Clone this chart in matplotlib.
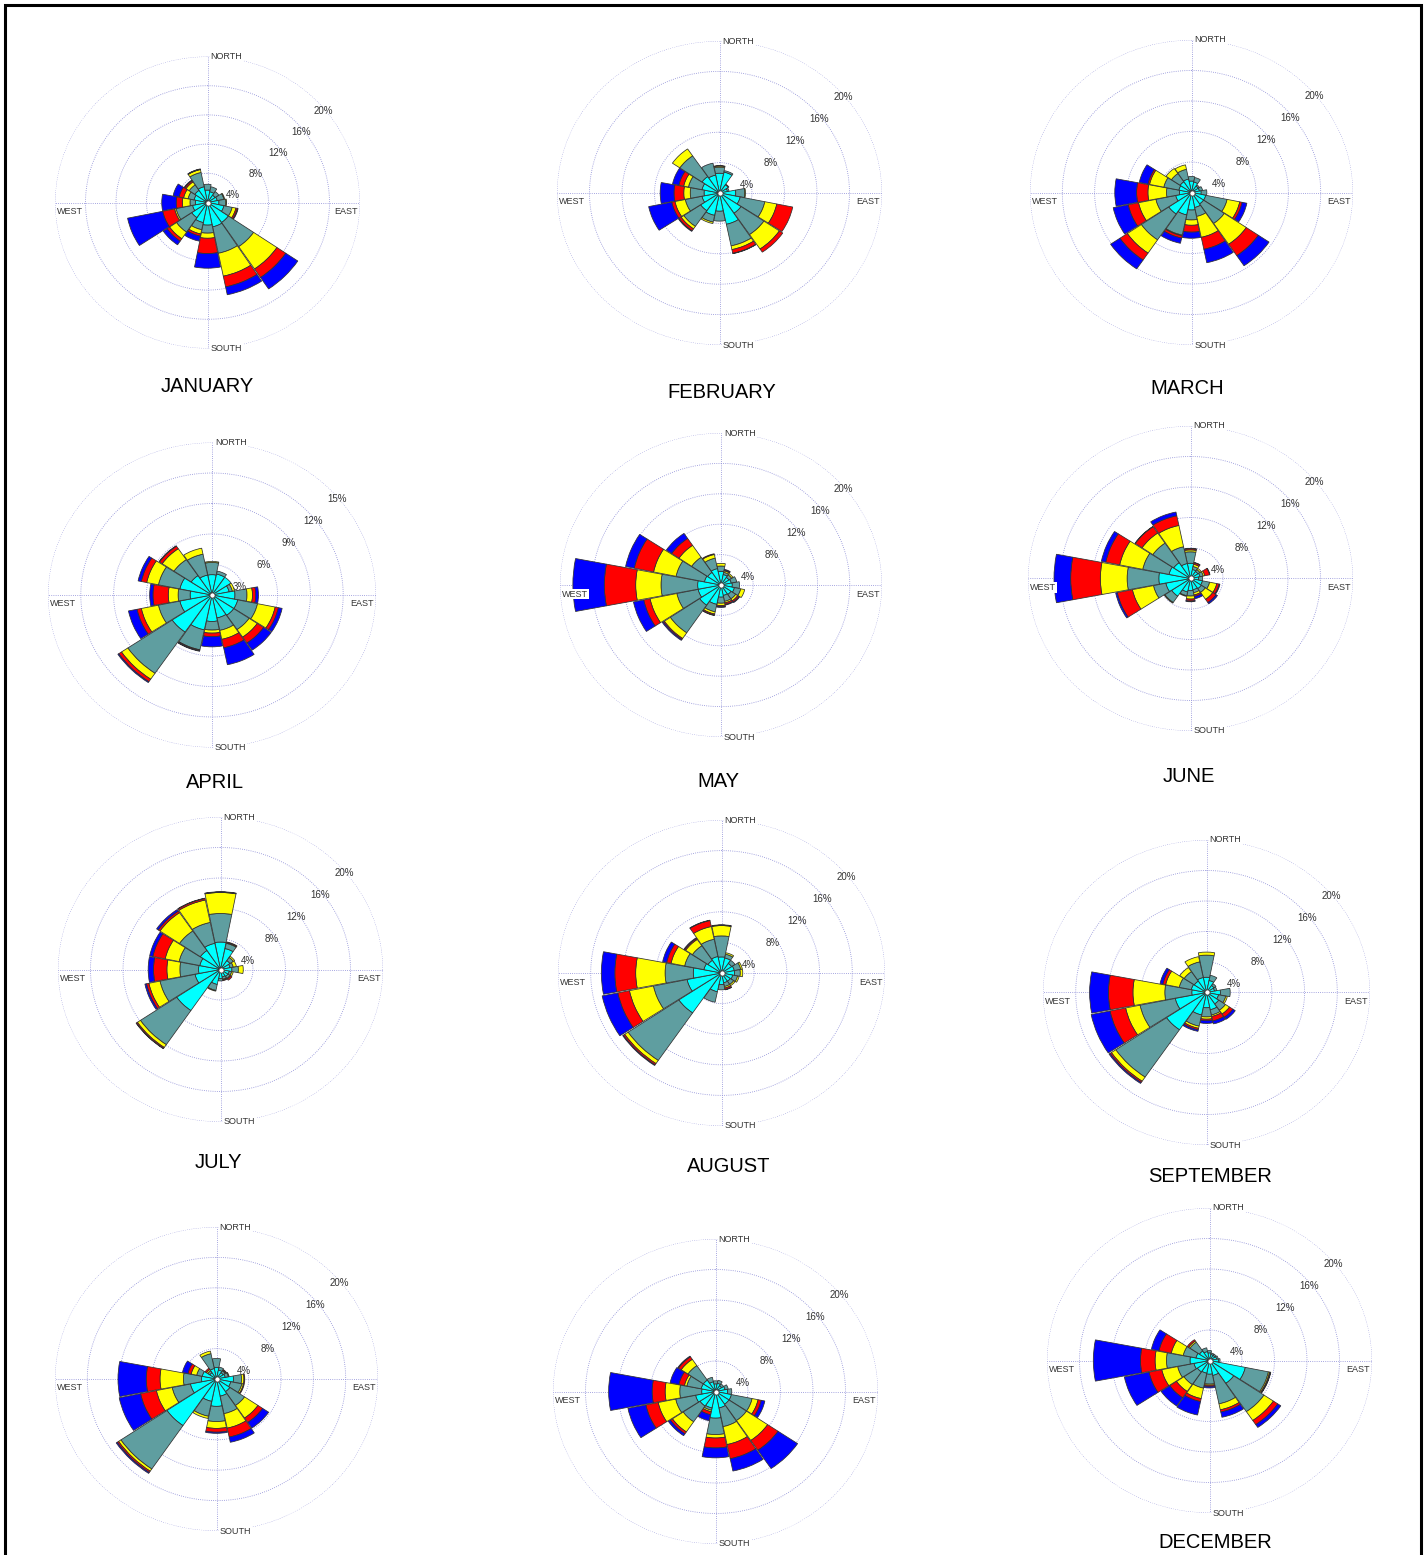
import numpy as np
import matplotlib
matplotlib.use('Agg')
import matplotlib.pyplot as plt
from matplotlib.patches import Rectangle

plt.rcParams['font.family'] = ['Liberation Sans', 'DejaVu Sans']

W, H = 1427, 1555

DIRECTIONS = ['N', 'NNE', 'NE', 'ENE', 'E', 'ESE', 'SE', 'SSE',
              'S', 'SSW', 'SW', 'WSW', 'W', 'WNW', 'NW', 'NNW']
BIN_COLORS = ['#00FFFF', '#5F9EA0', '#FFFF00', '#FF0000', '#0000FF']
TICKS_STD = [4, 8, 12, 16, 20]
TICKS_APR = [3, 6, 9, 12, 15]

# cumulative frequency (%) at the outer edge of each speed class, per direction
JAN = [[1.7, 2.5, 2.5, 2.5, 2.5], [1.5, 2.2, 2.2, 2.2, 2.2], [1.2, 1.8, 1.8, 1.8, 1.8],
       [1.3, 2.2, 2.3, 2.3, 2.3], [1.5, 2.4, 2.5, 2.5, 2.5], [2.2, 3.3, 3.8, 4.0, 4.1],
       [3.3, 7.3, 11.0, 12.4, 14.3], [3.4, 7.1, 10.3, 11.8, 12.9], [3.1, 4.2, 4.9, 7.0, 9.0],
       [2.8, 3.8, 4.4, 4.7, 5.4], [2.5, 4.9, 6.0, 6.4, 7.0], [2.0, 4.2, 4.4, 6.0, 10.7],
       [1.6, 2.3, 3.3, 4.1, 6.0], [1.8, 2.6, 3.2, 3.8, 4.6], [2.0, 2.9, 3.4, 3.6, 3.7],
       [2.2, 4.2, 4.6, 4.65, 4.7]]
FEB = [[2.6, 3.4, 3.55, 3.6, 3.6], [2.8, 3.0, 3.0, 3.0, 3.0], [1.3, 1.4, 1.4, 1.4, 1.4],
       [1.0, 1.2, 1.2, 1.2, 1.2], [2.0, 3.1, 3.2, 3.2, 3.2], [2.6, 5.7, 7.2, 9.2, 9.2],
       [3.2, 6.6, 8.9, 9.4, 9.4], [4.2, 7.1, 7.6, 8.1, 8.15], [2.4, 3.7, 3.7, 3.7, 3.7],
       [3.0, 3.9, 4.1, 4.1, 4.1], [2.8, 5.3, 5.7, 6.0, 6.1], [2.2, 4.3, 5.6, 6.0, 8.9],
       [1.9, 3.6, 4.4, 5.6, 7.3], [2.2, 3.9, 4.5, 5.1, 5.9], [2.6, 5.9, 7.0, 7.0, 7.0],
       [2.4, 4.0, 4.0, 4.0, 4.0]]
MAR = [[1.5, 2.1, 2.1, 2.1, 2.1], [1.4, 2.0, 2.0, 2.0, 2.0], [1.0, 1.2, 1.2, 1.2, 1.2],
       [1.0, 1.4, 1.4, 1.4, 1.4], [1.2, 1.9, 1.9, 1.9, 1.9], [1.8, 4.5, 6.1, 6.4, 7.0],
       [1.8, 4.9, 8.2, 10.0, 11.6], [2.0, 3.2, 6.0, 7.6, 9.4], [2.3, 3.6, 4.3, 5.2, 6.0],
       [3.0, 5.7, 5.8, 6.1, 6.8], [3.4, 7.5, 9.6, 10.7, 12.1], [2.0, 4.5, 6.7, 8.0, 9.9],
       [1.5, 3.1, 5.4, 6.8, 9.5], [1.6, 3.5, 5.3, 5.5, 6.6], [1.7, 3.0, 3.8, 3.8, 3.8],
       [1.8, 3.1, 3.7, 3.7, 3.7]]
APR = [[2.0, 3.2, 3.3, 3.3, 3.3], [2.1, 2.4, 2.4, 2.4, 2.4], [2.1, 2.1, 2.1, 2.1, 2.1],
       [1.6, 1.9, 2.1, 2.1, 2.1], [2.1, 3.2, 3.7, 4.0, 4.25], [2.4, 4.25, 5.9, 6.2, 6.55],
       [2.4, 4.1, 5.0, 5.7, 6.55], [2.3, 3.55, 4.45, 5.3, 7.0], [2.6, 3.45, 3.75, 4.1, 5.1],
       [3.5, 5.5, 5.55, 5.6, 5.65], [4.4, 9.3, 10.0, 10.3, 10.4], [3.0, 5.0, 6.6, 7.0, 7.8],
       [2.0, 3.1, 4.0, 5.4, 5.7], [3.0, 5.0, 6.1, 6.6, 6.9], [2.3, 4.2, 5.5, 5.8, 5.85],
       [2.0, 4.1, 4.7, 4.7, 4.7]]
MAY = [[1.8, 2.5, 2.85, 2.85, 2.85], [1.4, 1.7, 1.9, 2.0, 2.1], [1.2, 1.6, 1.8, 1.8, 1.8],
       [1.3, 2.0, 2.0, 2.0, 2.0], [1.4, 2.3, 2.3, 2.3, 2.3], [1.7, 2.5, 3.0, 3.0, 3.0],
       [1.5, 2.2, 2.5, 2.7, 2.8], [1.4, 2.2, 2.4, 2.6, 2.7], [1.6, 2.4, 2.7, 2.85, 2.95],
       [2.6, 3.6, 3.9, 4.05, 4.1], [3.2, 7.6, 8.5, 8.65, 8.8], [2.9, 5.6, 9.0, 9.8, 11.1],
       [2.9, 7.45, 10.6, 14.5, 18.4], [2.1, 5.7, 8.55, 11.0, 12.1], [2.0, 4.4, 6.3, 7.4, 8.2],
       [2.2, 3.6, 4.1, 4.2, 4.2]]
JUN = [[2.0, 3.5, 3.75, 3.9, 3.95], [1.2, 1.6, 1.9, 2.1, 2.15], [1.1, 1.4, 1.6, 1.6, 1.6],
       [1.2, 1.6, 1.8, 2.4, 2.45], [1.0, 1.5, 1.5, 1.5, 1.5], [1.5, 2.4, 3.3, 3.6, 3.7],
       [1.6, 2.2, 3.3, 3.8, 4.0], [1.5, 1.9, 2.2, 2.4, 2.7], [1.6, 2.3, 2.7, 2.95, 3.05],
       [1.8, 2.3, 2.4, 2.4, 2.4], [2.8, 3.8, 3.9, 3.9, 3.9], [3.1, 4.65, 7.3, 9.2, 9.4],
       [3.9, 7.8, 11.1, 14.75, 16.8], [2.7, 6.0, 8.9, 10.65, 11.2], [2.5, 5.6, 7.2, 8.2, 8.25],
       [2.0, 4.25, 7.1, 8.4, 8.9]]
JUL = [[3.6, 7.35, 10.1, 10.15, 10.2], [2.8, 3.5, 3.6, 3.7, 3.7], [1.4, 1.9, 2.1, 2.1, 2.1],
       [1.2, 1.6, 2.0, 2.0, 2.0], [1.4, 2.2, 2.8, 2.8, 2.8], [1.1, 1.4, 1.6, 1.6, 1.6],
       [1.1, 1.4, 1.5, 1.7, 1.7], [1.0, 1.3, 1.4, 1.5, 1.5], [1.2, 1.5, 1.5, 1.5, 1.5],
       [2.0, 2.8, 2.9, 2.9, 2.9], [6.5, 11.9, 12.35, 12.5, 12.55], [3.2, 7.6, 9.0, 9.3, 9.5],
       [2.7, 5.0, 6.6, 8.25, 8.9], [2.6, 5.2, 6.95, 8.5, 8.9], [3.0, 6.1, 9.0, 9.25, 9.5],
       [3.5, 6.3, 9.3, 9.5, 9.55]]
AUG = [[2.1, 4.85, 6.2, 6.25, 6.3], [2.0, 2.5, 2.7, 2.7, 2.7], [1.5, 2.0, 2.0, 2.0, 2.0],
       [1.6, 2.4, 2.6, 2.6, 2.6], [1.6, 2.3, 2.6, 2.6, 2.6], [1.4, 2.0, 2.2, 2.2, 2.2],
       [1.3, 1.8, 2.0, 2.0, 2.0], [1.3, 1.8, 2.0, 2.2, 2.25], [1.5, 2.2, 2.2, 2.2, 2.2],
       [2.5, 3.9, 3.9, 3.9, 3.9], [6.3, 13.8, 14.3, 14.5, 14.6], [4.3, 8.5, 11.5, 12.95, 14.9],
       [3.45, 6.9, 10.5, 13.05, 14.7], [2.2, 4.6, 6.3, 6.85, 7.35], [2.0, 4.3, 5.3, 5.45, 5.55],
       [2.2, 4.5, 6.2, 7.0, 7.05]]
SEP = [[2.0, 4.9, 5.3, 5.3, 5.3], [1.6, 2.3, 2.3, 2.3, 2.3], [1.1, 1.4, 1.4, 1.4, 1.4],
       [1.0, 1.3, 1.3, 1.3, 1.3], [1.7, 2.9, 2.9, 2.9, 2.9], [1.5, 2.4, 2.6, 2.6, 2.6],
       [1.8, 2.8, 3.4, 3.9, 4.25], [2.3, 3.0, 3.2, 3.8, 4.2], [2.0, 3.2, 3.5, 3.7, 4.05],
       [3.0, 4.5, 4.8, 5.0, 5.2], [5.9, 13.4, 14.05, 14.25, 14.4], [3.9, 8.3, 10.1, 12.05, 14.4],
       [1.8, 5.1, 9.0, 12.0, 14.3], [1.9, 3.4, 5.1, 5.45, 5.8], [1.8, 3.3, 3.95, 3.95, 3.95],
       [2.0, 4.1, 4.8, 4.8, 4.8]]
OCT = [[1.5, 2.7, 2.7, 2.7, 2.7], [1.2, 1.6, 1.6, 1.6, 1.6], [1.0, 1.3, 1.4, 1.5, 1.5],
       [1.1, 1.5, 1.6, 1.6, 1.6], [2.1, 3.1, 3.4, 3.5, 3.5], [1.8, 3.2, 3.4, 3.5, 3.5],
       [2.0, 4.2, 6.2, 6.9, 7.8], [2.3, 4.65, 6.6, 7.8, 8.5], [3.6, 5.6, 6.5, 7.0, 7.15],
       [3.0, 5.0, 5.3, 5.3, 5.3], [7.4, 14.3, 14.65, 14.85, 15.0], [3.3, 5.6, 7.6, 9.6, 12.3],
       [1.85, 4.1, 7.0, 8.7, 12.2], [1.8, 2.5, 3.2, 3.6, 4.3], [1.0, 1.3, 1.5, 1.7, 1.7],
       [1.4, 3.4, 3.75, 3.75, 3.75]]
NOV = [[1.0, 1.4, 1.4, 1.4, 1.4], [1.1, 1.5, 1.5, 1.5, 1.5], [0.9, 1.2, 1.2, 1.2, 1.2],
       [1.2, 1.6, 1.6, 1.6, 1.6], [1.5, 2.0, 2.0, 2.0, 2.0], [2.0, 4.6, 5.35, 5.75, 6.2],
       [2.0, 4.6, 7.75, 9.3, 12.2], [2.2, 4.7, 7.1, 9.0, 10.65], [3.5, 5.65, 6.1, 7.4, 8.7],
       [2.2, 2.5, 2.7, 3.1, 3.9], [2.3, 4.8, 6.4, 6.7, 7.0], [2.5, 5.0, 7.2, 8.75, 11.0],
       [1.7, 4.4, 6.2, 7.8, 13.15], [1.8, 3.6, 3.9, 4.6, 5.7], [1.8, 4.1, 5.1, 5.5, 5.6],
       [1.3, 1.9, 1.9, 1.9, 1.9]]
DEC = [[1.0, 1.3, 1.3, 1.3, 1.3], [0.8, 1.0, 1.0, 1.0, 1.0], [0.8, 1.0, 1.0, 1.0, 1.0],
       [0.9, 1.1, 1.1, 1.1, 1.1], [1.1, 1.3, 1.3, 1.3, 1.3], [4.5, 7.4, 7.55, 7.65, 7.7],
       [3.6, 8.1, 9.5, 10.15, 10.6], [2.0, 5.8, 6.6, 6.9, 7.6], [1.8, 3.1, 3.25, 3.4, 3.6],
       [1.7, 3.7, 5.1, 5.5, 7.3], [1.8, 3.8, 4.9, 5.9, 7.2], [1.95, 4.0, 6.0, 7.6, 10.7],
       [2.4, 5.3, 6.7, 8.5, 14.3], [1.7, 3.3, 4.8, 6.35, 7.3], [1.5, 2.9, 3.1, 3.3, 3.3],
       [1.2, 1.7, 1.7, 1.7, 1.7]]

MONTH_NAMES = ['JANUARY', 'FEBRUARY', 'MARCH', 'APRIL', 'MAY', 'JUNE', 'JULY',
               'AUGUST', 'SEPTEMBER', 'OCTOBER', 'NOVEMBER', 'DECEMBER']
MONTH_DATA = [JAN, FEB, MAR, APR, MAY, JUN, JUL, AUG, SEP, OCT, NOV, DEC]
MONTH_TICKS = [TICKS_STD, TICKS_STD, TICKS_STD, TICKS_APR, TICKS_STD, TICKS_STD,
               TICKS_STD, TICKS_STD, TICKS_STD, TICKS_STD, TICKS_STD, TICKS_STD]

# layout (pixels): centre x, centre y, x-radius, y-radius of each rose
GEOM = [(207.5, 202.5, 152.5, 146), (719.5, 193, 162.5, 152), (1191.5, 192.5, 161.5, 152.5),
        (212, 595, 164, 152.5), (721, 585, 161, 152), (1190.5, 578.5, 162.5, 152.5),
        (220.5, 969.5, 162.5, 152.5), (721.5, 973, 163.5, 153), (1206.5, 992.5, 163.5, 152.5),
        (216.5, 1379, 161.5, 152), (715.5, 1391.5, 162.5, 152.5), (1209.5, 1360.5, 162.5, 152.5)]
# title centres (pixels); None = outside the visible page
TITLE_POS = [(207, 387), (722, 392), (1187, 389), (215, 782), (718, 781), (1189, 777),
             (218, 1163), (729, 1166), (1210, 1176), None, None, (1215, 1542)]

GRID_COLOR = '#8a8ad6'

fig = plt.figure(figsize=(W / 100, H / 100), dpi=100)
fig.patch.set_facecolor('white')


def draw_rose(cum, ticks, geom):
    cx, cy, rx, ry = geom
    ax = fig.add_axes([(cx - rx) / W, 1 - (cy + ry) / H, 2 * rx / W, 2 * ry / H],
                      projection='polar')
    ax.set_aspect('auto')
    ax.set_theta_zero_location('N')
    ax.set_theta_direction(-1)
    rmax = ticks[-1]
    ax.set_ylim(0, rmax)
    ax.set_xticks([])
    ax.set_yticks([])
    ax.grid(False)
    ax.spines['polar'].set_visible(False)
    ax.patch.set_alpha(0)

    # grid rings and cross
    t = np.linspace(0, 2 * np.pi, 500)
    for v in ticks:
        ax.plot(t, np.full_like(t, v), ls=(0, (1, 1.6)), color=GRID_COLOR, lw=0.6, zorder=1)
    for ang in (0, 90, 180, 270):
        a = np.deg2rad(ang)
        ax.plot([a, a], [0, rmax], ls=(0, (1, 1.6)), color=GRID_COLOR, lw=0.6, zorder=1)

    # stacked bars
    theta = np.deg2rad(np.arange(len(DIRECTIONS)) * 22.5)
    cum = np.asarray(cum, dtype=float)
    bottoms = np.hstack([np.zeros((cum.shape[0], 1)), cum[:, :-1]])
    heights = cum - bottoms
    width = np.deg2rad(22.5) * 0.97
    for k, col in enumerate(BIN_COLORS):
        m = heights[:, k] > 0.01
        ax.bar(theta[m], heights[m, k], width=width, bottom=bottoms[m, k], color=col,
               edgecolor='#303030', linewidth=0.55, zorder=3)

    # calm circle
    ax.scatter([0], [0], s=14, facecolor='white', edgecolor='#404040', linewidth=0.6, zorder=5)

    # ring labels
    for v in ticks:
        f = v / rmax
        xp = (0.744 * f + 0.018) * rmax
        yp = (0.72 * f - 0.09) * rmax
        ax.text(np.arctan2(xp, yp), np.hypot(xp, yp), f'{v}%', ha='center', va='center',
                fontsize=7, color='#333333', zorder=6)

    # compass labels
    bb = dict(facecolor='white', edgecolor='none', pad=0.6)
    kw = dict(textcoords='offset pixels', fontsize=6.5, color='#333333', bbox=bb,
              zorder=7, annotation_clip=False)
    ax.annotate('NORTH', xy=(0, rmax), xytext=(3, 0), ha='left', va='center', **kw)
    ax.annotate('SOUTH', xy=(np.pi, rmax), xytext=(3, 0), ha='left', va='center', **kw)
    ax.annotate('WEST', xy=(1.5 * np.pi, rmax), xytext=(2, -9), ha='left', va='center', **kw)
    ax.annotate('EAST', xy=(0.5 * np.pi, rmax), xytext=(-2, -9), ha='right', va='center', **kw)
    return ax


for name, data, ticks, geom, tpos in zip(MONTH_NAMES, MONTH_DATA, MONTH_TICKS, GEOM, TITLE_POS):
    draw_rose(data, ticks, geom)
    if tpos is not None:
        fig.text(tpos[0] / W, 1 - tpos[1] / H, name, ha='center', va='center', fontsize=14.5,
                 color='black')

fig.add_artist(Rectangle((5 / W, -0.02), 1416 / W, 1.02 - 5 / H, transform=fig.transFigure,
                         fill=False, edgecolor='black', linewidth=2.2))

fig.savefig('out.png', dpi=100, facecolor='white')
